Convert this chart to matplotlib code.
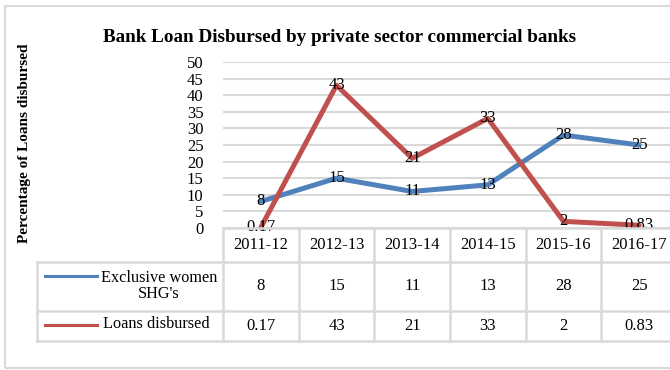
import matplotlib
matplotlib.use("Agg")
import matplotlib.pyplot as plt
from matplotlib.lines import Line2D
from matplotlib.patches import Rectangle
from matplotlib.transforms import blended_transform_factory

plt.rcParams['font.family'] = ['Liberation Serif', 'DejaVu Serif']

years = ["2011-12", "2012-13", "2013-14", "2014-15", "2015-16", "2016-17"]
shg_values = [8, 15, 11, 13, 28, 25]
loan_values = [0.17, 43, 21, 33, 2, 0.83]
shg_labels = ["8", "15", "11", "13", "28", "25"]
loan_labels = ["0.17", "43", "21", "33", "2", "0.83"]
series_names = ["Exclusive women\nSHG's", "Loans disbursed"]
y_ticks = list(range(0, 55, 5))

BLUE = "#4F81BD"
RED = "#C0504D"
GRID = "#D9D9D9"

W, H = 670, 370
fig = plt.figure(figsize=(W / 100, H / 100), dpi=100)


def fx(px):
    return px / W


def fy(py):
    return 1 - py / H


# outer chart border
fig.patches.append(Rectangle((fx(5), fy(368)), fx(700) - fx(5), fy(6) - fy(368),
                             transform=fig.transFigure, fill=False,
                             edgecolor=GRID, linewidth=1.5))

ax_left, ax_right, ax_top, ax_bottom = 223, 677, 62, 228
ax = fig.add_axes([fx(ax_left), fy(ax_bottom), fx(ax_right) - fx(ax_left),
                   fy(ax_top) - fy(ax_bottom)])
ax.set_xlim(-0.5, len(years) - 0.5)
ax.set_ylim(0, 50)
for s in ax.spines.values():
    s.set_visible(False)
ax.set_yticks(y_ticks)
ax.set_yticklabels([str(t) for t in y_ticks], fontsize=12)
ax.tick_params(axis='y', length=0, pad=14)
ax.set_xticks([])
ax.yaxis.grid(True, color=GRID, linewidth=1.5)
ax.set_axisbelow(True)

x = list(range(len(years)))
ax.plot(x, shg_values, color=BLUE, linewidth=3.6, solid_joinstyle='round',
        solid_capstyle='round', zorder=3, clip_on=False)
ax.plot(x, loan_values, color=RED, linewidth=3.6, solid_joinstyle='round',
        solid_capstyle='round', zorder=3, clip_on=False)
for xi, v, t in zip(x, shg_values, shg_labels):
    ax.text(xi, v, t, ha='center', va='center', fontsize=12, zorder=5)
for xi, v, t in zip(x, loan_values, loan_labels):
    ax.text(xi, v, t, ha='center', va='center', fontsize=12, zorder=5)

fig.text(fx(340), fy(37), "Bank Loan Disbursed by private sector commercial banks",
         ha='center', va='center', fontsize=13.8, fontweight='bold')
fig.text(fx(25), fy(143), "Percentage of Loans disbursed", rotation=90,
         ha='center', va='center', fontsize=11, fontweight='bold')

# data table beneath the plot
tr = blended_transform_factory(ax.transData, fig.transFigure)
rows_y = [228, 262, 311, 341]
legend_left = 37
lw = 1.8
for i, yy in enumerate(rows_y):
    x0 = ax_left if i == 0 else legend_left
    fig.add_artist(Line2D([fx(x0), fx(720)], [fy(yy), fy(yy)],
                          transform=fig.transFigure, color=GRID, linewidth=lw))
fig.add_artist(Line2D([fx(legend_left)] * 2, [fy(262), fy(341)],
                      transform=fig.transFigure, color=GRID, linewidth=lw))
for b in range(len(years) + 1):
    fig.add_artist(Line2D([b - 0.5, b - 0.5], [fy(228), fy(341)],
                          transform=tr, color=GRID, linewidth=lw, clip_on=False))

for xi, yr in zip(x, years):
    fig.text(xi, fy(245), yr, transform=tr, ha='center', va='center', fontsize=12)
for xi, t in zip(x, shg_labels):
    fig.text(xi, fy(286.5), t, transform=tr, ha='center', va='center', fontsize=12)
for xi, t in zip(x, loan_labels):
    fig.text(xi, fy(326), t, transform=tr, ha='center', va='center', fontsize=12)

# legend keys inside the table
for (yy, col, name) in [(276, BLUE, series_names[0]), (325, RED, series_names[1])]:
    fig.add_artist(Line2D([fx(45), fx(97)], [fy(yy), fy(yy)],
                          transform=fig.transFigure, color=col, linewidth=2.2))
fig.text(fx(159), fy(286), series_names[0], ha='center', va='center',
         fontsize=11.7, linespacing=1.05)
fig.text(fx(103), fy(324), series_names[1], ha='left', va='center', fontsize=11.7)

fig.savefig("out.png", dpi=100)
